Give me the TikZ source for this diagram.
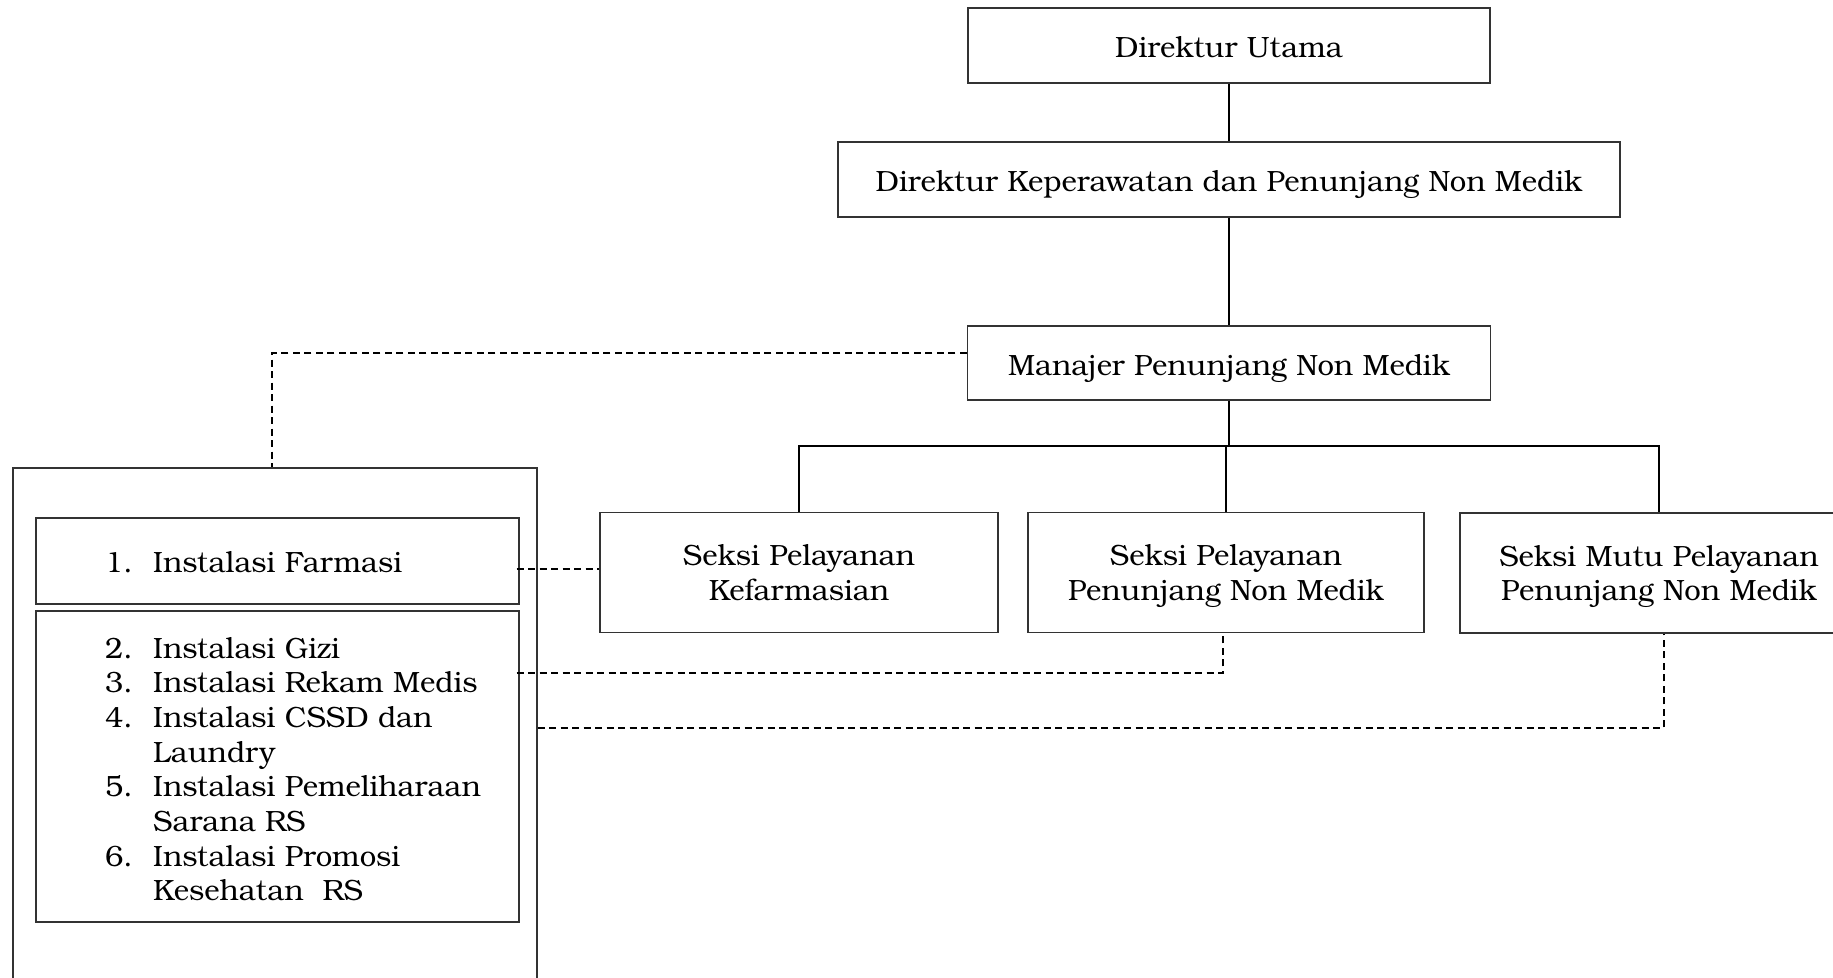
\documentclass[tikz,border=0pt]{standalone}
\usepackage{fontspec}
\setmainfont{texgyrebonum-regular.otf}
\newcommand\chartfont{\fontsize{29.3}{34.7}\selectfont}
\tikzset{
  box/.style={draw=black!80, line width=1.4pt, inner sep=0pt, align=center, font=\chartfont},
  onebox/.style={box, text height=24pt, text depth=0pt},
  twobox/.style={box, text depth=0pt, minimum height=120pt},
  link/.style={draw=black, line width=2pt},
  buslink/.style={draw=black, line width=2.8pt},
  dashlink/.style={draw=black, line width=1.6pt, dash pattern=on 7pt off 4.5pt},
  listtext/.style={inner sep=0pt, anchor=base west, font=\chartfont}
}
\begin{document}
\begin{tikzpicture}[x=1pt,y=-1pt]
\useasboundingbox (0,0) rectangle (1833,977);
\clip (0,0) rectangle (1833,977);
\fill[white] (0,0) rectangle (1833,977);

% top chain
\node[onebox, minimum width=522pt, minimum height=75pt] (du) at (1229,45.5) {Direktur Utama};
\node[onebox, minimum width=782pt, minimum height=75pt] (dk) at (1229,179.5) {Direktur Keperawatan dan Penunjang Non Medik};
\node[onebox, minimum width=523pt, minimum height=74pt] (mn) at (1229,363) {Manajer Penunjang Non Medik};

% sections
\node[twobox, minimum width=398pt] (sk) at (799,572.5) {Seksi Pelayanan\\Kefarmasian};
\node[twobox, minimum width=396pt] (sp) at (1226,572.5) {Seksi Pelayanan\\Penunjang Non Medik};
\node[twobox, minimum width=398pt] (sm) at (1659,573) {Seksi Mutu Pelayanan\\Penunjang Non Medik};

% installation group
\node[box, minimum width=524pt, minimum height=540pt] (outer) at (275,738) {};
\node[box, minimum width=483pt, minimum height=86pt] (b1) at (277.5,561) {};
\node[box, minimum width=483pt, minimum height=311pt] (b2) at (277.5,766.5) {};

\node[listtext] (t1) at (105,572) {\begin{tabular}[t]{@{}p{48pt}@{}l@{}}1. & Instalasi Farmasi\end{tabular}};
\node[listtext] (t2) at (105,658) {\begin{tabular}[t]{@{}p{48pt}@{}l@{}}
2. & Instalasi Gizi\\
3. & Instalasi Rekam Medis\\
4. & Instalasi CSSD dan\\
   & Laundry\\
5. & Instalasi Pemeliharaan\\
   & Sarana RS\\
6. & Instalasi Promosi\\
   & Kesehatan\ \ RS
\end{tabular}};

% solid connectors
\draw[link] (du) -- (dk);
\draw[link] (dk) -- (mn);
\coordinate (bus) at (mn.south |- 0,446);
\draw[link] (mn.south) -- (bus);
\draw[buslink] ([xshift=-1pt]sk.north |- bus) -- ([xshift=1pt]sm.north |- bus);
\draw[link] (sk.north |- bus) -- (sk.north);
\draw[link] (sp.north |- bus) -- (sp.north);
\draw[link] (sm.north |- bus) -- (sm.north);

% dashed connectors
\coordinate (d0) at ([yshift=10pt]mn.west);
\draw[dashlink] (d0) -| ([xshift=-3pt]outer.north);
\coordinate (d1) at ([xshift=-3pt,yshift=-8pt]b1.east);
\draw[dashlink] (d1) -- (d1 -| sk.west);
\coordinate (d2) at ([xshift=-3pt]b2.east |- 0,673);
\draw[dashlink] (d2) -| ([xshift=-3pt]sp.south);
\coordinate (d3) at (outer.east |- 0,728);
\draw[dashlink] (d3) -| ([xshift=5pt]sm.south);
\end{tikzpicture}
\end{document}
